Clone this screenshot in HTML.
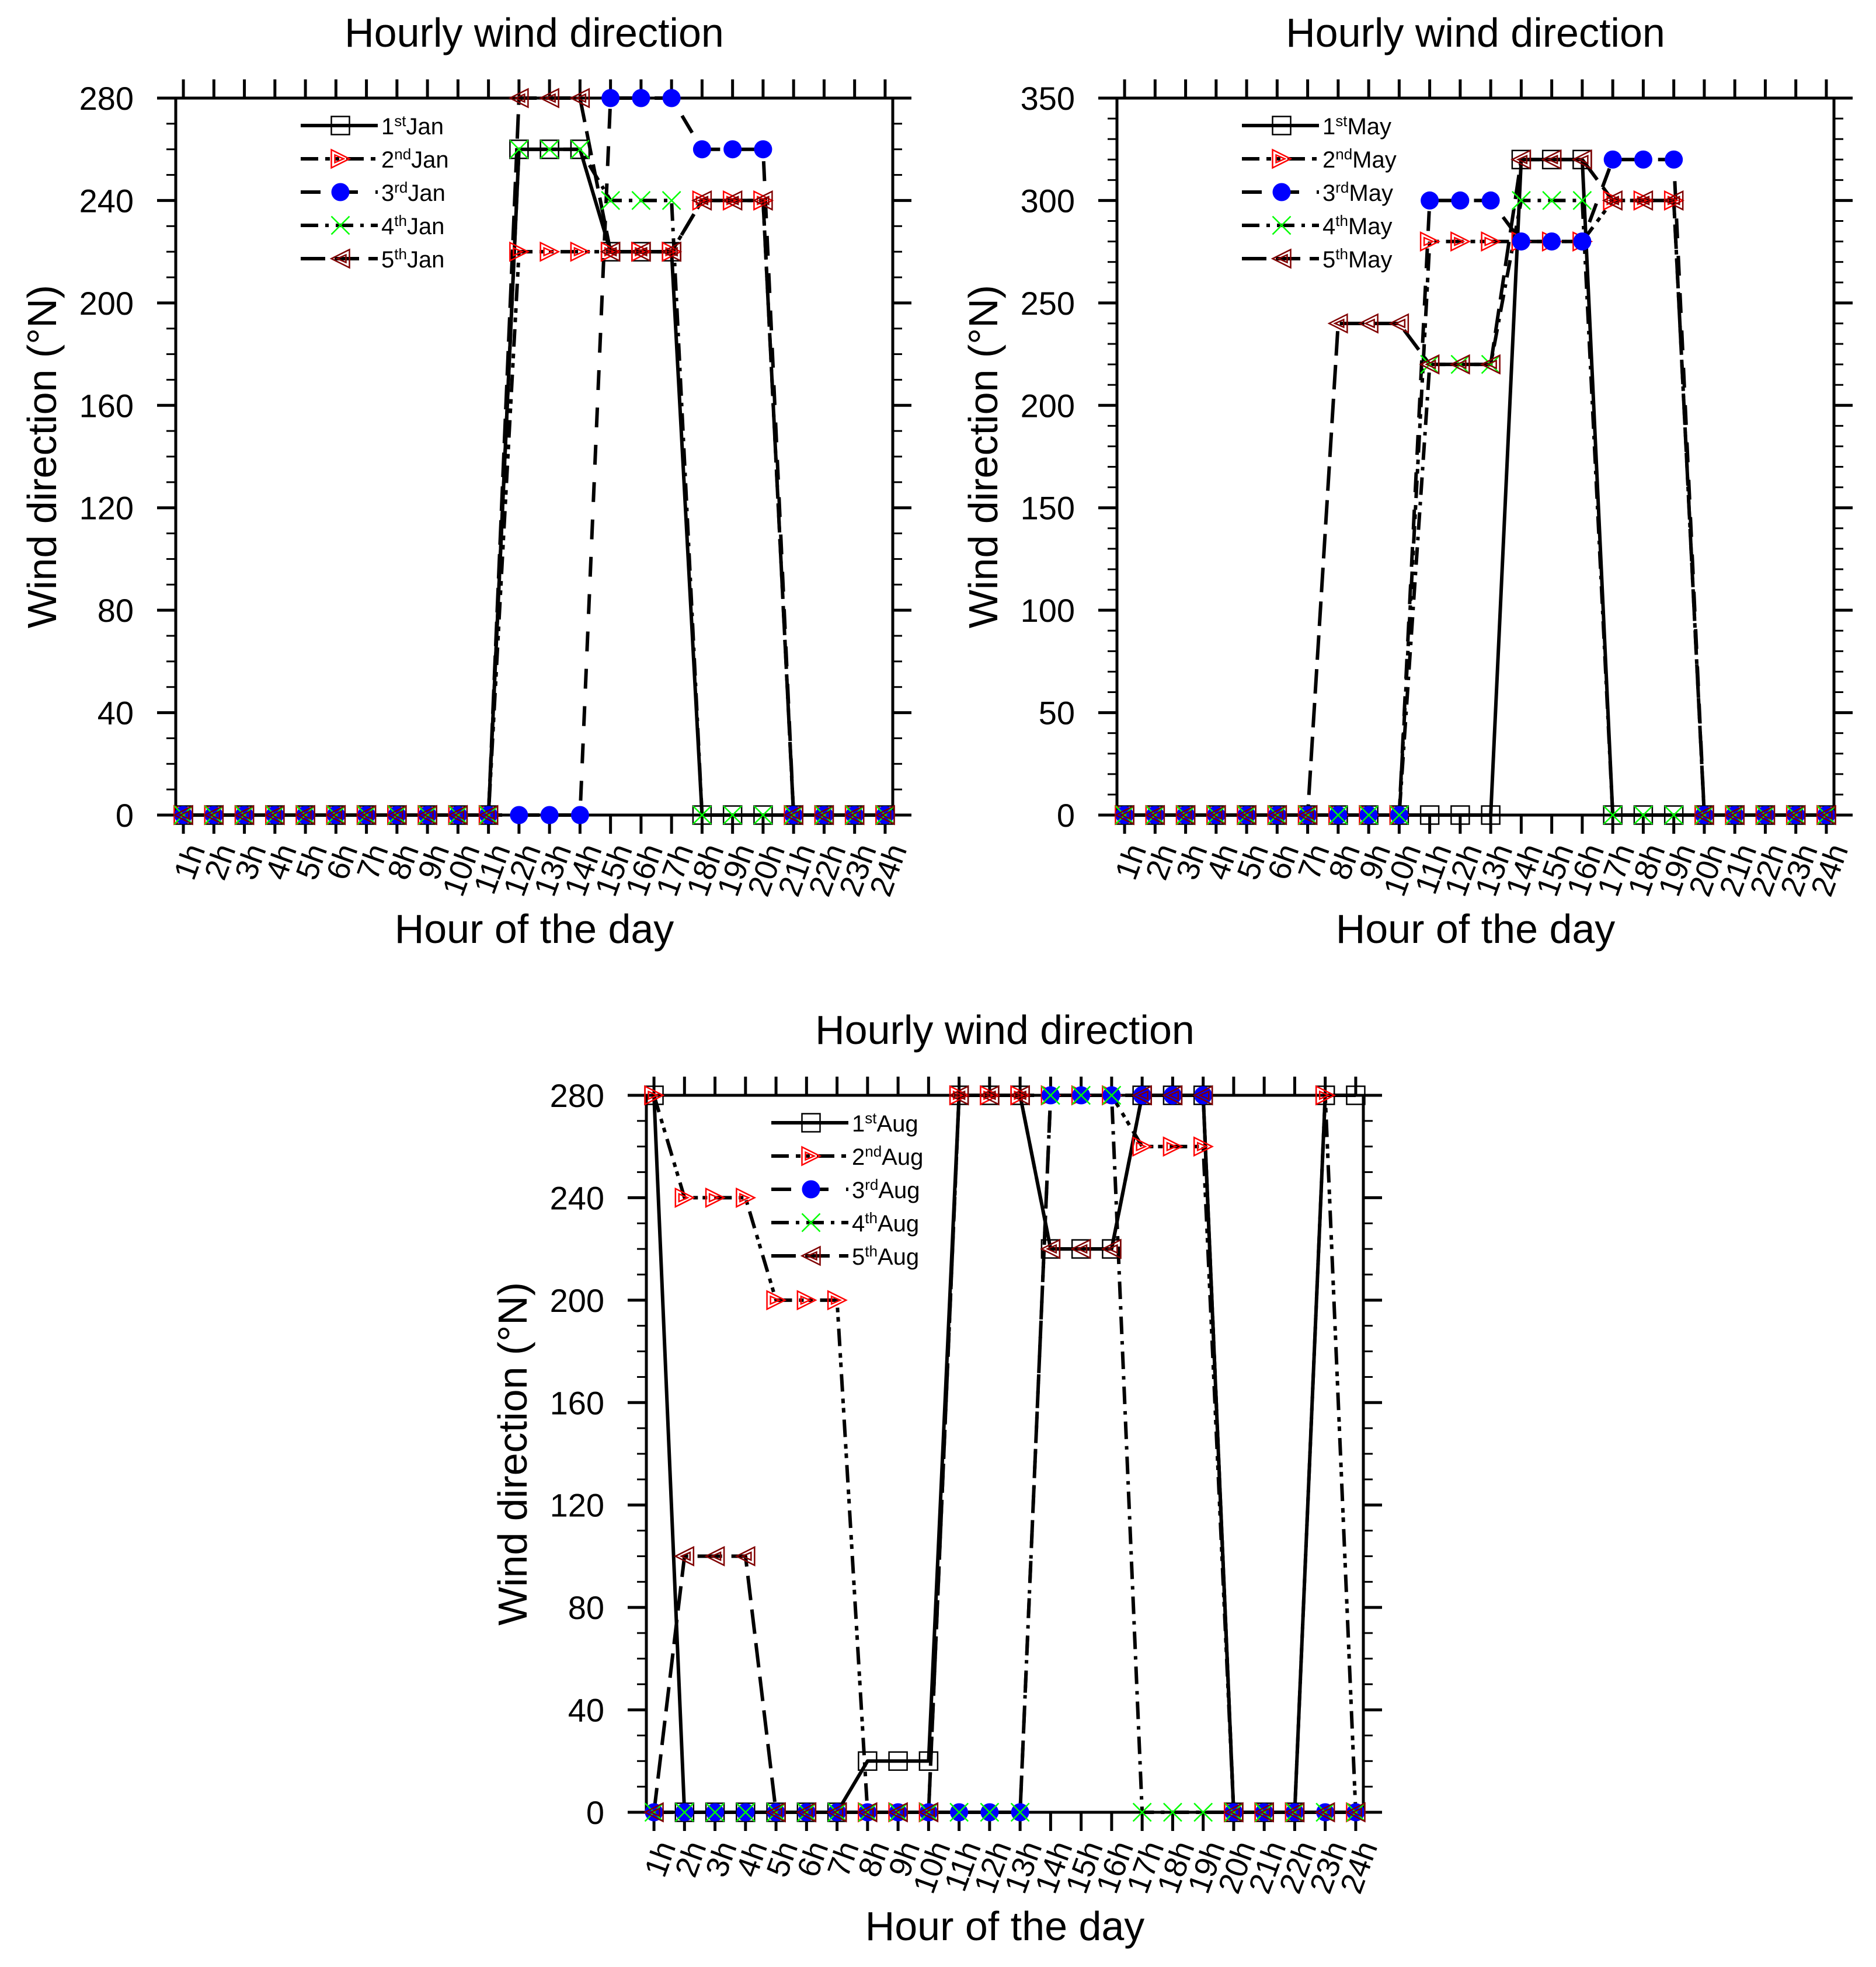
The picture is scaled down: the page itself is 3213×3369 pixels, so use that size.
<!DOCTYPE html>
<html><head><meta charset="utf-8"><style>
html,body{margin:0;padding:0;background:#fff;}
svg{display:block;font-family:"Liberation Sans",Arial,sans-serif;}
</style></head><body>
<svg id="chart" xmlns="http://www.w3.org/2000/svg" width="3213" height="3369" viewBox="0 0 3213 3369"></svg>
<script>
// ---- data ----
const hours = ["1h","2h","3h","4h","5h","6h","7h","8h","9h","10h","11h","12h","13h","14h","15h","16h","17h","18h","19h","20h","21h","22h","23h","24h"];
const janTicks = [0,40,80,120,160,200,240,280];
const mayTicks = [0,50,100,150,200,250,300,350];
const augTicks = [0,40,80,120,160,200,240,280];
const janDay1 = [0,0,0,0,0,0,0,0,0,0,0,260,260,260,220,220,220,0,0,0,0,0,0,0];
const janDay2 = [0,0,0,0,0,0,0,0,0,0,0,220,220,220,220,220,220,240,240,240,0,0,0,0];
const janDay3 = [0,0,0,0,0,0,0,0,0,0,0,0,0,0,280,280,280,260,260,260,0,0,0,0];
const janDay4 = [0,0,0,0,0,0,0,0,0,0,0,260,260,260,240,240,240,0,0,0,0,0,0,0];
const janDay5 = [0,0,0,0,0,0,0,0,0,0,0,280,280,280,220,220,220,240,240,240,0,0,0,0];
const mayDay1 = [0,0,0,0,0,0,0,0,0,0,0,0,0,320,320,320,0,0,0,0,0,0,0,0];
const mayDay2 = [0,0,0,0,0,0,0,0,0,0,280,280,280,280,280,280,300,300,300,0,0,0,0,0];
const mayDay3 = [0,0,0,0,0,0,0,0,0,0,300,300,300,280,280,280,320,320,320,0,0,0,0,0];
const mayDay4 = [0,0,0,0,0,0,0,0,0,0,220,220,220,300,300,300,0,0,0,0,0,0,0,0];
const mayDay5 = [0,0,0,0,0,0,0,240,240,240,220,220,220,320,320,320,300,300,300,0,0,0,0,0];
const augDay1 = [280,0,0,0,0,0,0,20,20,20,280,280,280,220,220,220,280,280,280,0,0,0,280,280];
const augDay2 = [280,240,240,240,200,200,200,0,0,0,280,280,280,280,280,280,260,260,260,0,0,0,280,0];
const augDay3 = [0,0,0,0,0,0,0,0,0,0,0,0,0,280,280,280,280,280,280,0,0,0,0,0];
const augDay4 = [0,0,0,0,0,0,0,0,0,0,0,0,0,280,280,280,0,0,0,0,0,0,0,0];
const augDay5 = [0,100,100,100,0,0,0,0,0,0,280,280,280,220,220,220,280,280,280,0,0,0,0,0];

const NS="http://www.w3.org/2000/svg";
const svg=document.getElementById('chart');
function mk(tag,attrs,parent){const e=document.createElementNS(NS,tag);for(const k in attrs)e.setAttribute(k,attrs[k]);(parent||svg).appendChild(e);return e;}

const dashes=[null,"30 12 8 8 8 12","34 30","30 12 6 12","42 16"];
const ords=["st","nd","rd","th","th"];

function marker(g,kind,cx,cy){
  const s=15.5;
  if(kind===0){const m=mk('rect',{x:cx-s,y:cy-s,width:2*s,height:2*s,fill:'none',stroke:'#000','stroke-width':2.5},g);}
  else if(kind===1){const m=mk('g',{},g);
    mk('polygon',{points:`${cx-s},${cy-s} ${cx+s},${cy} ${cx-s},${cy+s}`,fill:'none',stroke:'#f00','stroke-width':2.5},m);
    mk('polygon',{points:`${cx-s+6},${cy-s+9} ${cx+s-10},${cy} ${cx-s+6},${cy+s-9}`,fill:'none',stroke:'#f00','stroke-width':2.5},m);}
  else if(kind===2){const m=mk('circle',{cx:cx,cy:cy,r:15.5,fill:'#0000ff'},g);}
  else if(kind===3){const m=mk('path',{d:`M${cx-s} ${cy-s}L${cx+s} ${cy+s}M${cx+s} ${cy-s}L${cx-s} ${cy+s}`,stroke:'#00ff00','stroke-width':2.5,fill:'none'},g);}
  else {const m=mk('g',{},g);
    mk('polygon',{points:`${cx+s},${cy-s} ${cx-s},${cy} ${cx+s},${cy+s}`,fill:'none',stroke:'#800000','stroke-width':2.5},m);
    mk('polygon',{points:`${cx+s-6},${cy-s+9} ${cx-s+10},${cy} ${cx+s-6},${cy+s-9}`,fill:'none',stroke:'#800000','stroke-width':2.5},m);}
}

function drawPlot(id,x0,y0,ymax,ticks,minorStep,series,month){
  const W=1228,H=1228;
  const xs=i=>x0+(i+1-0.75)/23.5*W;
  const ys=v=>y0+H-v/ymax*H;
  const g=mk('g',{});
  
  
  const t=mk('text',{x:x0+W/2,y:y0-88,'font-size':70,'text-anchor':'middle'},g);
  t.textContent='Hourly wind direction';
  
  
  const fr=mk('rect',{x:x0,y:y0,width:W,height:H,fill:'none',stroke:'#000','stroke-width':5},g);
  
  
  for(let v=0;v<=ymax+0.001;v+=minorStep){
    const y=ys(v);const major=ticks.indexOf(v)>=0;const L=major?32:16;
    mk('line',{x1:x0-L,y1:y,x2:x0,y2:y,stroke:'#000','stroke-width':major?5:3},g);
    mk('line',{x1:x0+W,y1:y,x2:x0+W+L,y2:y,stroke:'#000','stroke-width':major?5:3},g);
  }
  ticks.forEach(v=>{
    const tl=mk('text',{x:x0-72,y:ys(v)+20,'font-size':56,'text-anchor':'end'},g);
    tl.textContent=v;
    
    
  });
  hours.forEach((h,i)=>{
    const x=xs(i);
    mk('line',{x1:x,y1:y0-32,x2:x,y2:y0,stroke:'#000','stroke-width':5},g);
    mk('line',{x1:x,y1:y0+H,x2:x,y2:y0+H+32,stroke:'#000','stroke-width':5},g);
    const tl=mk('text',{x:x+38,y:y0+H+58,'font-size':54,'text-anchor':'end',transform:`rotate(-70 ${x+38} ${y0+H+58})`},g);
    tl.textContent=h;
    
    
  });
  const xt=mk('text',{x:x0+W/2,y:y0+H+219,'font-size':70,'text-anchor':'middle'},g);
  xt.textContent='Hour of the day';
  
  
  const yx=x0-205,yy=y0+H/2;
  const yt=mk('text',{x:yx,y:yy,'font-size':70,'text-anchor':'middle',transform:`rotate(-90 ${yx} ${yy})`},g);
  yt.textContent='Wind direction (°N)';
  
  
  series.forEach((d,k)=>{
    const p=mk('polyline',{points:d.map((v,i)=>xs(i)+','+ys(v)).join(' '),fill:'none',stroke:'#000','stroke-width':6,'stroke-linejoin':'round'},g);
    if(dashes[k])p.setAttribute('stroke-dasharray',dashes[k]);
    
    
  });
  series.forEach((d,k)=>{
    const mg=mk('g',{},g);
    
    
    d.forEach((v,i)=>marker(mg,k,xs(i),ys(v)));
  });
  const lx=x0+214,ly=y0+47;
  series.forEach((d,k)=>{
    const y=ly+k*57;
    const lg=mk('g',{},g);
    
    
    const l=mk('line',{x1:lx,y1:y,x2:lx+132,y2:y,stroke:'#000','stroke-width':6},lg);
    if(dashes[k])l.setAttribute('stroke-dasharray',dashes[k]);
    marker(lg,k,lx+68,y);
    const tx=mk('text',{x:lx+138,y:y+15,'font-size':40},lg);
    tx.textContent=(k+1)+'';
    const sp=mk('tspan',{dy:-14,'font-size':26},tx);sp.textContent=ords[k];
    const sp2=mk('tspan',{dy:14,'font-size':40},tx);sp2.textContent=month;
  });
}
drawPlot('jan',301,168,280,janTicks,10,[janDay1,janDay2,janDay3,janDay4,janDay5],'Jan');
drawPlot('may',1913,168,350,mayTicks,10,[mayDay1,mayDay2,mayDay3,mayDay4,mayDay5],'May');
drawPlot('aug',1107,1876,280,augTicks,10,[augDay1,augDay2,augDay3,augDay4,augDay5],'Aug');
</script>
</body></html>
